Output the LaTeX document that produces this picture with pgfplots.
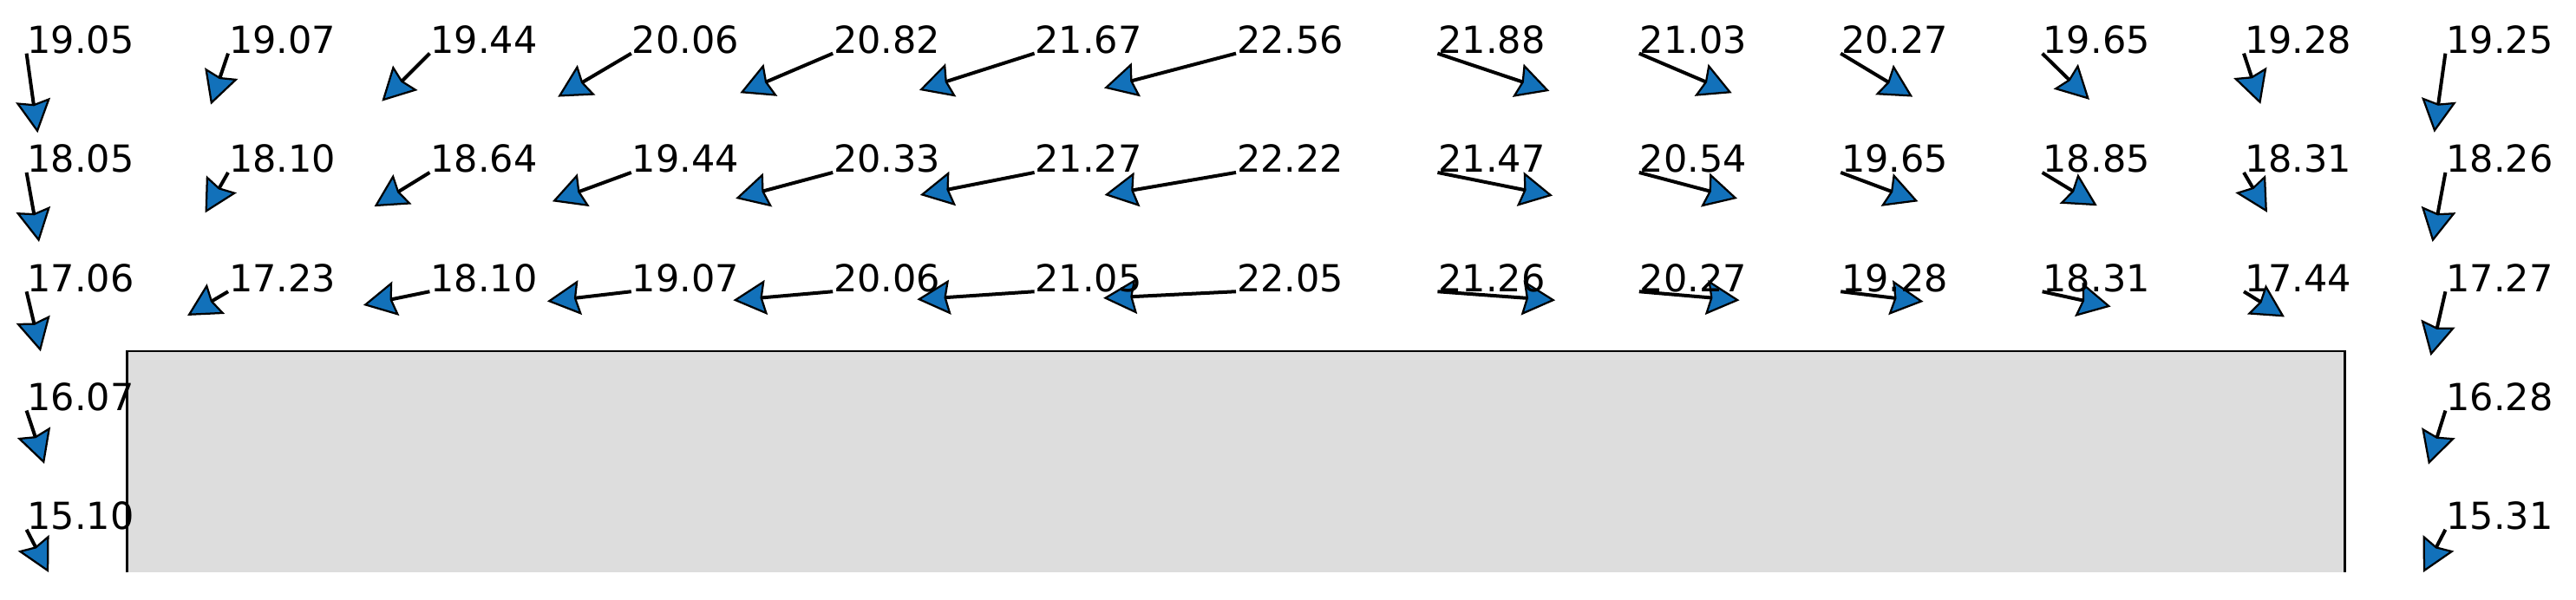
\documentclass[border=0pt]{standalone}
\usepackage{fontspec}
\setmainfont{DejaVu Sans}
\usepackage{pgfplots}
\usepackage{pgfplotstable}
\pgfplotsset{compat=1.18}
\usetikzlibrary{arrows.meta}
\definecolor{qblue}{RGB}{18,113,186}
\definecolor{boxgray}{RGB}{221,221,221}

% x y = arrow tail, u v = arrow vector, lab = printed value
\pgfplotstableread{
x y u v lab
0 5 0.055 -0.667 19.05
1 5 -0.086 -0.430 19.07
2 5 -0.237 -0.401 19.44
3 5 -0.364 -0.364 20.06
4 5 -0.460 -0.332 20.82
5 5 -0.571 -0.308 21.67
6 5 -0.654 -0.291 22.56
7 5 0.555 -0.315 21.88
8 5 0.460 -0.332 21.03
9 5 0.357 -0.364 20.27
10 5 0.234 -0.388 19.65
11 5 0.083 -0.425 19.28
12 5 -0.055 -0.663 19.25
0 4 0.062 -0.583 18.05
1 4 -0.114 -0.339 18.10
2 4 -0.275 -0.286 18.64
3 4 -0.391 -0.243 19.44
4 4 -0.482 -0.218 20.33
5 4 -0.567 -0.189 21.27
6 4 -0.652 -0.189 22.22
7 4 0.571 -0.194 21.47
8 4 0.487 -0.218 20.54
9 4 0.384 -0.243 19.65
10 4 0.272 -0.279 18.85
11 4 0.116 -0.335 18.31
12 4 -0.064 -0.583 18.26
0 3 0.070 -0.503 17.06
1 3 -0.202 -0.202 17.23
2 3 -0.329 -0.114 18.10
3 3 -0.417 -0.082 19.07
4 3 -0.494 -0.073 20.06
5 3 -0.582 -0.066 21.05
6 3 -0.658 -0.055 22.05
7 3 0.584 -0.073 21.26
8 3 0.498 -0.073 20.27
9 3 0.410 -0.084 19.28
10 3 0.340 -0.126 18.31
11 3 0.202 -0.213 17.44
12 3 -0.073 -0.539 17.27
0 2 0.088 -0.447 16.07
12 2 -0.084 -0.452 16.28
0 1 0.110 -0.359 15.10
12 1 -0.110 -0.359 15.31
}\vectors

\begin{document}
\begin{tikzpicture}
\begin{axis}[width=594pt, height=138.4pt, scale only axis,
  xmin=-0.1317, xmax=12.648, ymin=0.409, ymax=5.449,
  hide axis, clip=false]
\path (rel axis cs:0,0) rectangle (rel axis cs:1,1);
% building block, cut off at the bottom
\addplot[fill=boxgray, draw=none] coordinates {(0.5,0.64) (0.5,2.5) (11.5,2.5) (11.5,0.64)};
\addplot[black, line width=0.55pt] coordinates {(0.5,0.64) (0.5,2.5) (11.5,2.5) (11.5,0.64)};
% wind vectors
\addplot[black, line width=0.8pt,
  quiver={u=\thisrow{u}, v=\thisrow{v}},
  -{Stealth[length=7.6pt, width=8pt, inset=0.9pt, fill=qblue, color=black, line width=0.45pt]}]
  table[x=x, y=y] {\vectors};
% speed labels
\addplot[draw=none, mark=none, point meta=explicit symbolic,
  nodes near coords={\pgfplotspointmeta},
  nodes near coords align={anchor=base west},
  every node near coord/.append style={anchor=base west, inner sep=0pt,
    font=\fontsize{8.6}{10}\selectfont, text=black}]
  table[x=x, y=y, meta=lab] {\vectors};
\end{axis}
\end{tikzpicture}
\end{document}
